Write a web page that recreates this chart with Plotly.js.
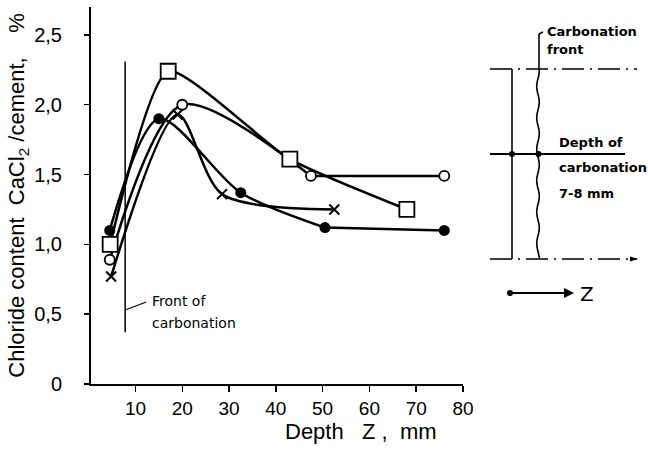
<!DOCTYPE html>
<html>
<head>
<meta charset="utf-8">
<script src="https://cdn.plot.ly/plotly-3.0.1.min.js"></script>
<style>html,body{margin:0;padding:0;background:#fff;}#chart{width:648px;height:455px;}</style>
</head>
<body>
<div id="chart"></div>
<script>
// ---- data ----
var squareX = [4.6, 17, 43, 68];
var squareY = [1.0, 2.24, 1.61, 1.25];
var openCircleX = [4.5, 20, 47.5, 76];
var openCircleY = [0.89, 2.0, 1.49, 1.49];
var filledCircleX = [4.5, 15, 32.5, 50.5, 76];
var filledCircleY = [1.1, 1.9, 1.37, 1.12, 1.1];
var crossX = [4.8, 19, 28.5, 52.5];
var crossY = [0.77, 1.93, 1.36, 1.25];
var xTickVals = [10, 20, 30, 40, 50, 60, 70, 80];
var yTickVals = [0, 0.5, 1.0, 1.5, 2.0, 2.5];
var yTickText = ['0', '0,5', '1,0', '1,5', '2,0', '2,5'];
var frontX = 7.8;          // front of carbonation, mm
var frontSpan = [0.37, 2.31];

// ---- geometry ----
var W = 648, H = 455;
var M = {l: 91, r: 185, t: 7, b: 71};
var PW = W - M.l - M.r, PH = H - M.t - M.b;
function px(x){ return (x - M.l) / PW; }
function py(y){ return (H - M.b - y) / PH; }

var splineLine = {color: '#000', width: 2.5, shape: 'spline', smoothing: 0.8};
var squareLine = {color: '#000', width: 2.5, shape: 'spline', smoothing: 0.55};
var straightLine = {color: '#000', width: 2.5};
var mFilled = {symbol: 'circle', size: 11, color: '#000'};
var mCross = {symbol: 'x-thin-open', size: 10, color: '#000', line: {color: '#000', width: 2}};
var mOpen = {symbol: 'circle', size: 10, color: '#fff', line: {color: '#000', width: 1.8}};
var mSquare = {symbol: 'square', size: 15, color: '#fff', line: {color: '#000', width: 1.8}};

var traces = [
  {x: filledCircleX.slice(0, 4), y: filledCircleY.slice(0, 4), mode: 'lines', line: splineLine},
  {x: filledCircleX.slice(3), y: filledCircleY.slice(3), mode: 'lines', line: straightLine},
  {x: filledCircleX, y: filledCircleY, mode: 'markers', marker: mFilled},
  {x: crossX, y: crossY, mode: 'lines+markers', line: splineLine, marker: mCross},
  {x: openCircleX.slice(0, 3), y: openCircleY.slice(0, 3), mode: 'lines', line: splineLine},
  {x: openCircleX.slice(2), y: openCircleY.slice(2), mode: 'lines', line: straightLine},
  {x: openCircleX, y: openCircleY, mode: 'markers', marker: mOpen},
  {x: squareX, y: squareY, mode: 'lines+markers', line: squareLine, marker: mSquare},
  {x: [frontX, frontX], y: frontSpan, mode: 'lines', line: {color: '#000', width: 1.5}}
];

var schemFont = {family: 'DejaVu Sans', size: 13, color: '#000', weight: 'bold'};
function txt(x, y, s, f){
  return {xref: 'paper', yref: 'paper', x: px(x), y: py(y), text: s, showarrow: false,
          xanchor: 'left', yanchor: 'middle', font: f || schemFont};
}
var wave = 'M ' + px(538) + ' ' + py(69);
for (var yy = 69; yy <= 259; yy += 3) {
  var xx = 538 + 1.3 * Math.sin(yy / 5);
  wave += ' L ' + px(xx) + ' ' + py(yy);
}
function seg(x0, y0, x1, y1, dash, w){
  return {type: 'line', xref: 'paper', yref: 'paper', x0: px(x0), y0: py(y0), x1: px(x1), y1: py(y1),
          line: {color: '#000', width: w || 1.6, dash: dash || 'solid'}};
}
var shapes = [
  seg(490, 69, 637, 69, '22px,6px,2px,6px'),
  seg(490, 259, 637, 259, '22px,6px,2px,6px'),
  seg(512, 69, 512, 259),
  seg(490, 154, 625, 154, 'solid', 2),
  {type: 'path', xref: 'paper', yref: 'paper', path: wave, line: {color: '#000', width: 1.6}},
  seg(539, 68, 539, 34), seg(539, 34, 543, 32),
  {type: 'circle', xref: 'paper', yref: 'paper', x0: px(509), x1: px(515), y0: py(151), y1: py(157), fillcolor: '#000', line: {width: 0}},
  {type: 'circle', xref: 'paper', yref: 'paper', x0: px(535.5), x1: px(541.5), y0: py(151), y1: py(157), fillcolor: '#000', line: {width: 0}},
  {type: 'path', xref: 'paper', yref: 'paper', path: 'M ' + px(630) + ' ' + py(256.5) + ' L ' + px(638) + ' ' + py(259) + ' L ' + px(630) + ' ' + py(261.5) + ' Z', fillcolor: '#000', line: {width: 0}},
  seg(510, 293, 566, 293, 'solid', 2),
  {type: 'circle', xref: 'paper', yref: 'paper', x0: px(507), x1: px(513), y0: py(290), y1: py(296), fillcolor: '#000', line: {width: 0}},
  {type: 'path', xref: 'paper', yref: 'paper', path: 'M ' + px(564) + ' ' + py(288) + ' L ' + px(574) + ' ' + py(293) + ' L ' + px(564) + ' ' + py(298) + ' Z', fillcolor: '#000', line: {width: 0}},
  {type: 'line', xref: 'x', yref: 'paper', x0: frontX, x1: frontX + 4.5, y0: py(310), y1: py(302), line: {color: '#000', width: 1.3}}
];

var annFont = {family: 'DejaVu Sans', size: 14, color: '#000'};
var annotations = [
  txt(150, 301, 'Front of', annFont),
  txt(150, 323, 'carbonation', annFont),
  txt(545, 31, 'Carbonation'),
  txt(545, 49, 'front'),
  txt(557, 142, 'Depth of'),
  txt(557, 168, 'carbonation'),
  txt(557, 193, '7-8 mm'),
  {xref: 'paper', yref: 'paper', x: px(578), y: py(294), text: 'Z', showarrow: false, xanchor: 'left', yanchor: 'middle',
   font: {family: 'DejaVu Sans', size: 20, color: '#000'}},
  {xref: 'paper', yref: 'paper', x: px(361), y: py(431), text: 'Depth   Z ,  mm', showarrow: false, xanchor: 'center', yanchor: 'middle',
   font: {family: 'Liberation Sans', size: 22, color: '#000'}}
];

var layout = {
  width: W, height: H, margin: M, showlegend: false,
  paper_bgcolor: '#fff', plot_bgcolor: '#fff',
  font: {family: 'Liberation Sans', size: 18, color: '#000'},
  xaxis: {range: [0.5, 80], tickvals: xTickVals, ticks: 'outside', ticklen: 6, tickwidth: 1.5, tickcolor: '#000',
          showgrid: false, zeroline: false, showline: true, linecolor: '#000', linewidth: 2,
          tickfont: {family: 'Liberation Sans', size: 19}},
  yaxis: {range: [0, 2.7], tickvals: yTickVals, ticks: 'outside', ticktext: yTickText, ticklen: 5, tickwidth: 1.5, tickcolor: '#000',
          showgrid: false, zeroline: false, showline: true, linecolor: '#000', linewidth: 2, ticklabelstandoff: 18,
          tickfont: {family: 'Liberation Sans', size: 20},
          title: {text: 'Chloride content  CaCl<sub>2</sub> /cement,    %', standoff: 3,
                  font: {family: 'Liberation Sans', size: 22}}},
  shapes: shapes, annotations: annotations
};
Plotly.newPlot('chart', traces, layout, {staticPlot: true});
</script>
</body>
</html>
